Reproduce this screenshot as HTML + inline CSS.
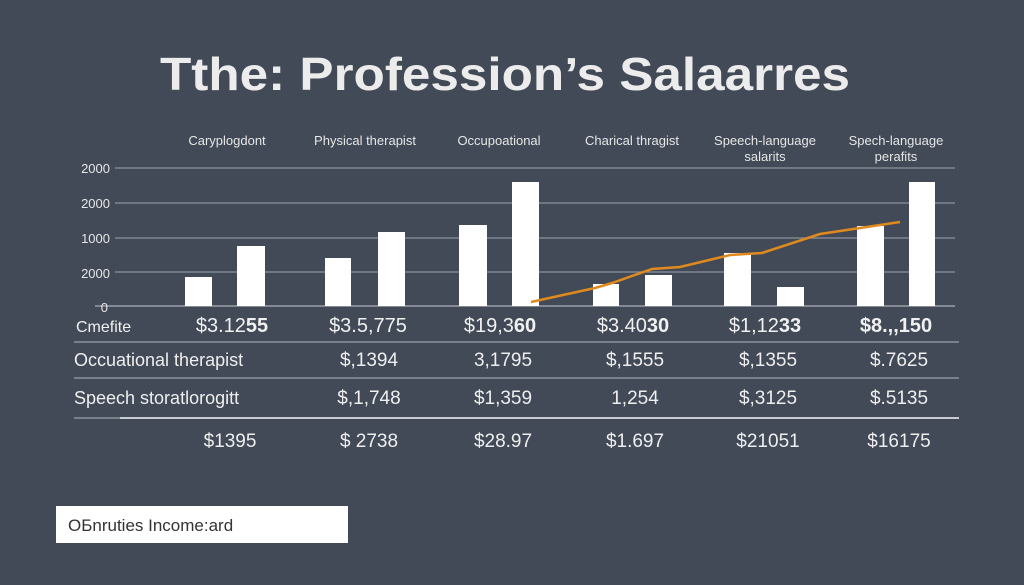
<!DOCTYPE html>
<html><head><meta charset="utf-8"><style>
html,body{margin:0;padding:0;background:#424a57;}
svg{display:block;font-family:"Liberation Sans",sans-serif;}
</style></head><body>
<svg width="1024" height="585" viewBox="0 0 1024 585" xmlns="http://www.w3.org/2000/svg">
<rect width="1024" height="585" fill="#424a57"/>
<text x="505" y="90" text-anchor="middle" font-size="46" font-weight="bold" fill="#ececec" textLength="690" lengthAdjust="spacingAndGlyphs">Tthe: Profession’s Salaarres</text>
<g font-size="13" fill="#e6e6e6" text-anchor="middle">
<text x="227" y="145">Caryplogdont</text>
<text x="365" y="145">Physical therapist</text>
<text x="499" y="145">Occupoational</text>
<text x="632" y="145">Charical thragist</text>
<text x="765" y="145">Speech-language</text>
<text x="765" y="161">salarits</text>
<text x="896" y="145">Spech-language</text>
<text x="896" y="161">perafits</text>
</g>
<g stroke="#8a929c" stroke-width="1.2">
<line x1="115" y1="168" x2="955" y2="168"/>
<line x1="115" y1="203" x2="955" y2="203"/>
<line x1="115" y1="238" x2="955" y2="238"/>
<line x1="115" y1="272" x2="955" y2="272"/>
<line x1="95" y1="306" x2="955" y2="306" stroke="#aab0b8"/>
</g>
<g font-size="13" fill="#e6e6e6" text-anchor="end">
<text x="110" y="173">2000</text>
<text x="110" y="208">2000</text>
<text x="110" y="243">1000</text>
<text x="110" y="278">2000</text>
<text x="108" y="312">0</text>
</g>
<g fill="#ffffff">
<rect x="185" y="277" width="27" height="29"/>
<rect x="237" y="246" width="28" height="60"/>
<rect x="325" y="258" width="26" height="48"/>
<rect x="378" y="232" width="27" height="74"/>
<rect x="459" y="225" width="28" height="81"/>
<rect x="512" y="182" width="27" height="124"/>
<rect x="593" y="284" width="26" height="22"/>
<rect x="645" y="275" width="27" height="31"/>
<rect x="724" y="253" width="27" height="53"/>
<rect x="777" y="287" width="27" height="19"/>
<rect x="857" y="226" width="27" height="80"/>
<rect x="909" y="182" width="26" height="124"/>
</g>
<polyline points="531,302 595,288 612,283 652,269 680,267 730,255 762,253 820,234 860,228 900,222" fill="none" stroke="#e08a1e" stroke-width="2.5"/>
<g font-size="20" fill="#f0f0f0" text-anchor="middle">
<text x="76" y="332" font-size="16" text-anchor="start">Cmefite</text>
<text x="232" y="332">$3.12<tspan font-weight="bold">55</tspan></text>
<text x="368" y="332">$3.5,775</text>
<text x="500" y="332">$19,3<tspan font-weight="bold">60</tspan></text>
<text x="633" y="332">$3.40<tspan font-weight="bold">30</tspan></text>
<text x="765" y="332">$1,12<tspan font-weight="bold">33</tspan></text>
<text x="896" y="332" font-weight="bold">$8.,,150</text>
</g>
<g stroke="#9aa1aa" stroke-width="1.2">
<line x1="74" y1="342" x2="959" y2="342"/>
<line x1="74" y1="378" x2="959" y2="378"/>
<line x1="120" y1="418" x2="959" y2="418" stroke="#c8ccd1" stroke-width="2"/>
<line x1="74" y1="418" x2="120" y2="418"/>
</g>
<g font-size="18" fill="#eeeeee">
<text x="74" y="366">Occuational therapist</text>
<text x="74" y="404">Speech storatlorogitt</text>
</g>
<g font-size="19" fill="#eeeeee" text-anchor="middle">
<text x="369" y="366">$,1394</text><text x="503" y="366">3,1795</text><text x="635" y="366">$,1555</text><text x="768" y="366">$,1355</text><text x="899" y="366">$.7625</text>
<text x="369" y="404">$,1,748</text><text x="503" y="404">$1,359</text><text x="635" y="404">1,254</text><text x="768" y="404">$,3125</text><text x="899" y="404">$.5135</text>
<text x="230" y="447">$1395</text><text x="369" y="447">$ 2738</text><text x="503" y="447">$28.97</text><text x="635" y="447">$1.697</text><text x="768" y="447">$21051</text><text x="899" y="447">$16175</text>
</g>
<rect x="56" y="506" width="292" height="37" fill="#ffffff"/>
<text x="68" y="531" font-size="17" fill="#333">OБnruties Income:ard</text>
</svg>
</body></html>
